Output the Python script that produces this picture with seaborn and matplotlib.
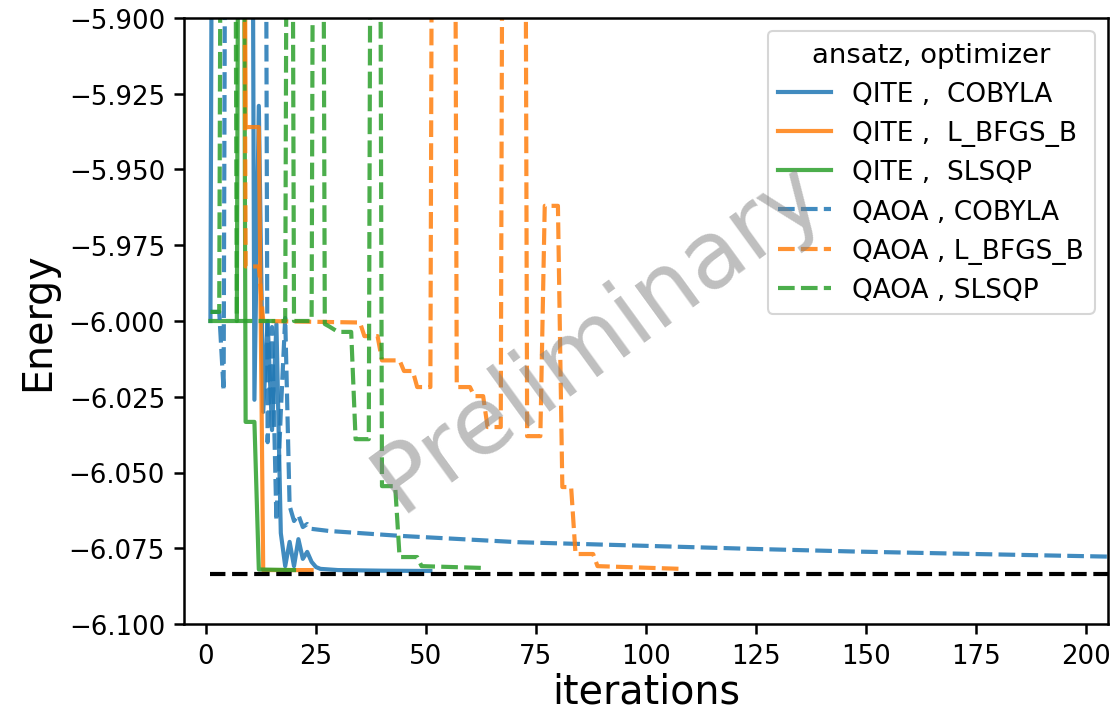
import numpy as np
import pandas as pd
import matplotlib
matplotlib.use("Agg")
import matplotlib.pyplot as plt
import seaborn as sns

# ---------------- data ----------------
LABELS = ["QITE ,  COBYLA", "QITE ,  L_BFGS_B", "QITE ,  SLSQP",
          "QAOA , COBYLA", "QAOA , L_BFGS_B", "QAOA , SLSQP"]

qite_cobyla_x = [1, 2, 10, 11, 12, 13, 14, 15, 16, 17, 18, 19, 20, 21, 22, 23, 24, 25, 26, 30, 40, 51]
qite_cobyla_y = [-6.000, -5.55, -5.60, -6.026, -5.929, -6.030, -6.000, -6.036, -6.001, -6.070,
                 -6.0809, -6.0729, -6.0809, -6.0720, -6.0785, -6.0762, -6.0795, -6.0812,
                 -6.0818, -6.0822, -6.0824, -6.0825]

qite_lbfgsb_x = [1, 8, 9, 12, 13, 24]
qite_lbfgsb_y = [-5.55, -5.55, -5.936, -5.936, -6.0822, -6.0822]

qite_slsqp_x = [1, 7, 8, 9, 11, 12, 20]
qite_slsqp_y = [-6.000, -6.000, -5.55, -6.0333, -6.0333, -6.0820, -6.0822]

qaoa_cobyla_x = [1, 3, 4, 5, 13, 14, 15, 16, 17, 18, 19, 20, 21, 22, 23, 24, 28, 44, 71,
                 100, 124, 148, 175, 203, 215]
qaoa_cobyla_y = [-5.997, -5.997, -6.023, -5.55, -5.55, -6.040, -6.002, -6.066, -6.030, -5.999,
                 -6.061, -6.066, -6.064, -6.068, -6.067, -6.0686, -6.0693, -6.0709, -6.0730,
                 -6.0742, -6.0752, -6.0761, -6.0769, -6.0777, -6.0780]

qaoa_lbfgsb_x = [1, 8, 9, 12, 13, 35, 36, 39, 40, 44, 45, 47, 48, 51, 52, 56, 57, 60, 61,
                 63, 64, 67, 68, 72, 73, 76, 77, 80, 81, 83, 84, 88, 89, 108]
qaoa_lbfgsb_y = [-5.55, -5.55, -5.982, -5.982, -6.000, -6.0005, -6.005, -6.005, -6.013,
                 -6.013, -6.0165, -6.0165, -6.0218, -6.0218, -5.55, -5.55, -6.0218, -6.0218,
                 -6.0248, -6.0248, -6.035, -6.035, -5.55, -5.55, -6.038, -6.038, -5.962,
                 -5.962, -6.0548, -6.0548, -6.0769, -6.0769, -6.0809, -6.0818]

qaoa_slsqp_x = [1, 3, 4, 6, 7, 18, 19, 20, 24, 25, 26, 27, 28, 30, 33, 34, 37, 38, 39, 40,
                43, 44, 48, 49, 63]
qaoa_slsqp_y = [-5.997, -5.997, -5.55, -5.55, -6.000, -6.000, -5.55, -6.000, -6.000, -5.55,
                -5.55, -6.001, -6.0018, -6.0036, -6.0036, -6.039, -6.039, -5.55, -5.55,
                -6.0545, -6.0545, -6.0779, -6.0779, -6.0809, -6.0815]

ground_energy = -6.0834
ground_x = [1, 215]

series_x = [qite_cobyla_x, qite_lbfgsb_x, qite_slsqp_x, qaoa_cobyla_x, qaoa_lbfgsb_x, qaoa_slsqp_x]
series_y = [qite_cobyla_y, qite_lbfgsb_y, qite_slsqp_y, qaoa_cobyla_y, qaoa_lbfgsb_y, qaoa_slsqp_y]

COL = "ansatz, optimizer"
rows = []
for lab, xs, ys in zip(LABELS, series_x, series_y):
    for x, y in zip(xs, ys):
        rows.append({"iterations": x, "Energy": y, COL: lab})
df = pd.DataFrame(rows)

palette = {LABELS[0]: "#1f77b4", LABELS[1]: "#ff7f0e", LABELS[2]: "#2ca02c",
           LABELS[3]: "#1f77b4", LABELS[4]: "#ff7f0e", LABELS[5]: "#2ca02c"}
dashes = {LABELS[0]: "", LABELS[1]: "", LABELS[2]: "",
          LABELS[3]: (4, 1.5), LABELS[4]: (4, 1.5), LABELS[5]: (4, 1.5)}

# ---------------- plot ----------------
fig, ax = plt.subplots(figsize=(7.4, 4.7533), dpi=150)
fig.subplots_adjust(left=0.1658, right=0.998, bottom=0.1234, top=0.9734)

sns.lineplot(data=df, x="iterations", y="Energy", hue=COL, style=COL,
             hue_order=LABELS, style_order=LABELS, palette=palette, dashes=dashes,
             estimator=None, linewidth=2.0, alpha=0.85, ax=ax)

ax.plot(ground_x, [ground_energy, ground_energy], color="black", linestyle="--", linewidth=2.0)

ax.set_xlim(-5, 205)
ax.set_ylim(-6.1, -5.9)
ax.set_yticks(np.arange(-6.1, -5.899, 0.025))
ax.tick_params(labelsize=12.5, length=4.6, width=1.2, pad=4.5)
for sp in ax.spines.values():
    sp.set_linewidth(1.2)
ax.set_xlabel("iterations", fontsize=19, labelpad=1)
ax.set_ylabel("Energy", fontsize=19, labelpad=5)

leg = ax.legend(title=COL, loc="upper right", fontsize=12.7, title_fontsize=13.2)
for line in leg.get_lines():
    line.set_alpha(0.85)
    line.set_linewidth(2.0)

ax.text(0.449, 0.475, "Preliminary", transform=ax.transAxes, rotation=36,
        fontsize=45, color="gray", alpha=0.5, ha="center", va="center", zorder=10)

fig.savefig("out.png", dpi=150)
